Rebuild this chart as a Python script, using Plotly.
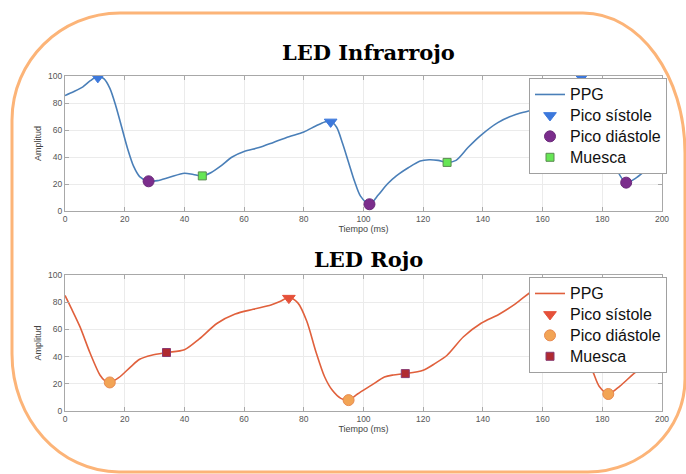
import plotly.graph_objects as go

# ---------------- data ----------------
ir_t = [0,3,6,8.5,11,13,15,17,19,21,23,25,28,31,35,40,43,46,49,52,56,60,65,70,75,80,84,87,89,91,
        93,95,97,99,102,105,108,111,115,119,122,125,128,131,135,139,145,151,157,162,166,170,173,176,179,
        182,185,188,191,195,200]
ir_a = [85.5,88.5,92,96.5,100,98,91,78,62,46,33,25.5,22,22.5,25,28,27,26,28.5,33,40,44,47,51,55,58.5,63,66,66.5,62,
        50,36,22,11,5,12,20,26,32,37,38,37.5,36,37.5,47,55.5,65.5,71.5,75,79,85,94,99.5,95,75,
        50,30,21,24,31,40]
ir_sys_t = [11, 89, 173]
ir_sys_a = [99, 66, 99]
ir_dia_t = [28, 102, 188]
ir_dia_a = [22, 5, 21]
ir_notch_t = [46, 128]
ir_notch_a = [26, 36]

red_t = [0,2,5,8.4,11.7,13.5,15,18,22,25,29,34,40,45,51,57,63,69,72,75,78,81,84,87,89.5,92.4,95,98,102.7,107,
         110,114,120,124,128,133.5,139.4,145.3,151,157,161,164,167,170,173,175,177,179,182,186,192,196,200]
red_a = [85,76,62,42.6,26.5,22,21,24.5,32.5,38,41,43,45,53,64.5,71.3,74.8,78,80.5,83.5,79.5,66,44,25,15.4,9.3,8,12.5,19,25,
         26.5,27.5,30,35,41,54.6,64.5,71,79,89,93,94,91,80,55,38,28,18,12.5,18.5,30,33.5,35.5]
red_sys_t = [75]
red_sys_a = [83]
red_dia_t = [15, 95, 182]
red_dia_a = [21, 8, 12.5]
red_notch_t = [34, 114]
red_notch_a = [43, 27.5]

x_ticks = [0, 20, 40, 60, 80, 100, 120, 140, 160, 180, 200]
y_ticks = [0, 20, 40, 60, 80, 100]

titles = ["LED Infrarrojo", "LED Rojo"]
names = ["PPG", "Pico sístole", "Pico diástole", "Muesca"]

W, H = 686, 474
FONT = "Liberation Sans, Arial, sans-serif"

fig = go.Figure()

def lab(s):
    return "<span style='font-size:16px'>" + s + "</span>"

def add_set(t, a, st, sa, dt, da, nt, na, xa, ya, leg, lc, sc, dc, dlc, nc, nlc):
    fig.add_trace(go.Scatter(x=t, y=a, mode="lines", name=lab(names[0]), xaxis=xa, yaxis=ya, legend=leg,
                             line=dict(color=lc, width=1.6, shape="spline", smoothing=0.8)))
    fig.add_trace(go.Scatter(x=st, y=sa, mode="markers", name=lab(names[1]), xaxis=xa, yaxis=ya, legend=leg,
                             marker=dict(symbol="triangle-down", size=11, color=sc,
                                         line=dict(color=sc, width=1))))
    fig.add_trace(go.Scatter(x=dt, y=da, mode="markers", name=lab(names[2]), xaxis=xa, yaxis=ya, legend=leg,
                             marker=dict(symbol="circle", size=11, color=dc,
                                         line=dict(color=dlc, width=1))))
    fig.add_trace(go.Scatter(x=nt, y=na, mode="markers", name=lab(names[3]), xaxis=xa, yaxis=ya, legend=leg,
                             marker=dict(symbol="square", size=8, color=nc,
                                         line=dict(color=nlc, width=1))))

add_set(ir_t, ir_a, ir_sys_t, ir_sys_a, ir_dia_t, ir_dia_a, ir_notch_t, ir_notch_a,
        "x", "y", "legend", "#4a7fb8", "#3c78dc", "#7b2d8c", "#6a2a7a", "#66e655", "#5a8a50")
add_set(red_t, red_a, red_sys_t, red_sys_a, red_dia_t, red_dia_a, red_notch_t, red_notch_a,
        "x2", "y2", "legend2", "#e0603c", "#e5513a", "#f2a455", "#e88a50", "#b02a30", "#8a3a70")

def px_x(p):
    return p / W

def px_y(p):
    return 1 - p / H

axis_common = dict(showline=True, linecolor="#a8a8a8", linewidth=1, mirror="ticks",
                   ticks="inside", ticklen=4, tickcolor="#a8a8a8",
                   showgrid=True, gridcolor="#ebebeb", gridwidth=1, zeroline=False,
                   automargin=False,
                   tickfont=dict(family=FONT, size=8.5, color="#555555"))

leg_common = dict(xanchor="left", yanchor="top", bgcolor="white", bordercolor="#a0a0a0", borderwidth=1,
                  font=dict(family=FONT, size=13.8, color="#111111"), itemwidth=30, tracegroupgap=0)

xdom = [px_x(65), px_x(662)]
fig.update_layout(
    width=W, height=H,
    margin=dict(l=0, r=0, t=0, b=0, autoexpand=False),
    paper_bgcolor="white", plot_bgcolor="white",
    font=dict(family=FONT),
    xaxis=dict(domain=xdom, range=[0, 200], tickvals=x_ticks, anchor="y",
               title=dict(text="Tiempo (ms)", font=dict(size=9, color="#444444"), standoff=2), **axis_common),
    yaxis=dict(domain=[px_y(211), px_y(76)], range=[0, 100], tickvals=y_ticks, anchor="x",
               title=dict(text="Amplitud", font=dict(size=9, color="#444444"), standoff=4), **axis_common),
    xaxis2=dict(domain=xdom, range=[0, 200], tickvals=x_ticks, anchor="y2",
                title=dict(text="Tiempo (ms)", font=dict(size=9, color="#444444"), standoff=2), **axis_common),
    yaxis2=dict(domain=[px_y(411), px_y(275)], range=[0, 100], tickvals=y_ticks, anchor="x2",
                title=dict(text="Amplitud", font=dict(size=9, color="#444444"), standoff=4), **axis_common),
    legend=dict(x=px_x(529), y=px_y(78), **leg_common),
    legend2=dict(x=px_x(529), y=px_y(277), **leg_common),
    showlegend=True,
)

# titles
fig.add_annotation(text="<b>" + titles[0] + "</b>", x=px_x(368), y=px_y(52), xref="paper", yref="paper",
                   xanchor="center", yanchor="middle", showarrow=False,
                   font=dict(family="DejaVu Serif, serif", size=21, color="black"))
fig.add_annotation(text="<b>" + titles[1] + "</b>", x=px_x(369), y=px_y(259), xref="paper", yref="paper",
                   xanchor="center", yanchor="middle", showarrow=False,
                   font=dict(family="DejaVu Serif, serif", size=21, color="black"))

# rounded orange frame
k = 0.5523
x0, x1, y0, y1 = 12, 685, 13, 472
tl = (108, 107); tr = (102, 140); br = (97, 93); bl = (107, 118)
def P(x, y):
    return f"{px_x(x):.5f},{px_y(y):.5f}"
path = (
    f"M {P(x0 + tl[0], y0)} L {P(x1 - tr[0], y0)} "
    f"C {P(x1 - tr[0] + k*tr[0], y0)} {P(x1, y0 + tr[1] - k*tr[1])} {P(x1, y0 + tr[1])} "
    f"L {P(x1, y1 - br[1])} "
    f"C {P(x1, y1 - br[1] + k*br[1])} {P(x1 - br[0] + k*br[0], y1)} {P(x1 - br[0], y1)} "
    f"L {P(x0 + bl[0], y1)} "
    f"C {P(x0 + bl[0] - k*bl[0], y1)} {P(x0, y1 - bl[1] + k*bl[1])} {P(x0, y1 - bl[1])} "
    f"L {P(x0, y0 + tl[1])} "
    f"C {P(x0, y0 + tl[1] - k*tl[1])} {P(x0 + tl[0] - k*tl[0], y0)} {P(x0 + tl[0], y0)} Z"
)
fig.add_shape(type="path", path=path, xref="paper", yref="paper",
              line=dict(color="#fcb478", width=3), layer="below")

fig.write_html("out.html", config={"displayModeBar": False},
               post_script="document.body.style.margin='0px';document.body.style.overflow='hidden';")
